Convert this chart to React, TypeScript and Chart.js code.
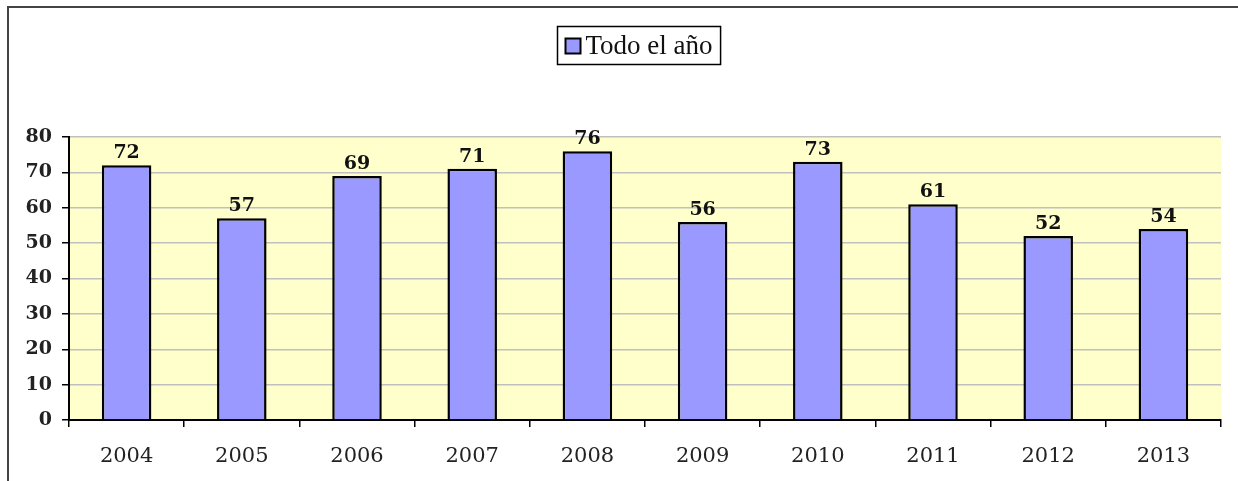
import React, { useEffect, useRef } from "react";
import { Chart, registerables } from "chart.js";

Chart.register(...registerables);

const categories = ["2004", "2005", "2006", "2007", "2008", "2009", "2010", "2011", "2012", "2013"];
const values = [72, 57, 69, 71, 76, 56, 73, 61, 52, 54];
const seriesName = "Todo el año";
const yTicks = [0, 10, 20, 30, 40, 50, 60, 70, 80];

const SERIF = "'DejaVu Serif', serif";

const decorPlugin = {
  id: "decor",
  beforeDraw(chart: any) {
    const { ctx, chartArea } = chart;
    ctx.save();
    ctx.fillStyle = "#FFFFCC";
    ctx.fillRect(chartArea.left, chartArea.top, chartArea.right - chartArea.left, chartArea.bottom - chartArea.top);
    ctx.restore();
  },
  afterDatasetsDraw(chart: any) {
    const { ctx } = chart;
    const meta = chart.getDatasetMeta(0);
    const data = chart.data.datasets[0].data;
    ctx.save();
    ctx.font = `bold 19px ${SERIF}`;
    ctx.fillStyle = "#111";
    ctx.textAlign = "center";
    ctx.textBaseline = "alphabetic";
    meta.data.forEach((bar: any, i: number) => {
      ctx.fillText(String(data[i]), bar.x, bar.y - 7);
    });
    ctx.restore();
  },
  afterDraw(chart: any) {
    const { ctx } = chart;
    ctx.save();
    // outer frame
    ctx.strokeStyle = "#444";
    ctx.lineWidth = 2;
    ctx.beginPath();
    ctx.moveTo(8, 481);
    ctx.lineTo(8, 7);
    ctx.lineTo(1238, 7);
    ctx.stroke();
    // legend
    const ds = chart.data.datasets[0];
    ctx.font = `27px 'Liberation Serif', serif`;
    const text = ds.label;
    const tw = ctx.measureText(text).width;
    const boxW = 16;
    const pad = 8;
    const gap = 4;
    const totalW = pad + boxW + gap + tw + pad;
    const cx = 639;
    const lx = Math.round(cx - totalW / 2) + 0.5;
    const ly = 26.5;
    const lh = 38;
    ctx.fillStyle = "#fff";
    ctx.fillRect(lx, ly, totalW, lh);
    ctx.strokeStyle = "#000";
    ctx.lineWidth = 1.5;
    ctx.strokeRect(lx, ly, totalW, lh);
    ctx.fillStyle = ds.backgroundColor;
    ctx.fillRect(lx + pad, ly + 12, 15, 15);
    ctx.lineWidth = 2;
    ctx.strokeRect(lx + pad, ly + 12, 15, 15);
    ctx.fillStyle = "#111";
    ctx.textBaseline = "middle";
    ctx.textAlign = "left";
    ctx.fillText(text, lx + pad + boxW + gap, ly + lh / 2 + 1);
    ctx.restore();
  },
};

export default function App() {
  const ref = useRef<HTMLCanvasElement | null>(null);
  useEffect(() => {
    if (!ref.current) return;
    const chart = new Chart(ref.current, {
      type: "bar",
      data: {
        labels: categories,
        datasets: [
          {
            label: seriesName,
            data: values,
            backgroundColor: "#9999FF",
            borderColor: "#000",
            borderWidth: 2.5,
            barPercentage: 0.43,
            categoryPercentage: 1,
          },
        ],
      },
      options: {
        animation: false,
        responsive: false,
        maintainAspectRatio: false,
        layout: { padding: { left: 0, right: 17, top: 137, bottom: 0 } },
        plugins: { legend: { display: false }, tooltip: { enabled: false }, title: { display: false } },
        scales: {
          x: {
            grid: {
              offset: true,
              drawOnChartArea: false,
              drawTicks: true,
              tickLength: 7,
              tickColor: "#000",
              lineWidth: 1.5,
            },
            border: { color: "#000", width: 2 },
            ticks: { color: "#222", font: { family: SERIF, size: 21 }, padding: 17, maxRotation: 0 },
            afterFit: (s: any) => {
              s.height = 61;
            },
          },
          y: {
            min: 0,
            max: 80,
            afterBuildTicks: (s: any) => {
              s.ticks = yTicks.map((v) => ({ value: v }));
            },
            grid: { color: "#C0C0C0", lineWidth: 1.5, tickLength: 7, tickColor: "#000" },
            border: { color: "#000", width: 2 },
            ticks: { color: "#222", font: { family: SERIF, size: 19, weight: "bold" }, padding: 10 },
            afterFit: (s: any) => {
              s.width = 69;
            },
          },
        },
      },
      plugins: [decorPlugin],
    });
    return () => chart.destroy();
  }, []);
  return (
    <div style={{ position: "fixed", left: 0, top: 0, width: 1238, height: 481, background: "#fff" }}>
      <canvas ref={ref} width={1238} height={481} style={{ display: "block" }} />
    </div>
  );
}
